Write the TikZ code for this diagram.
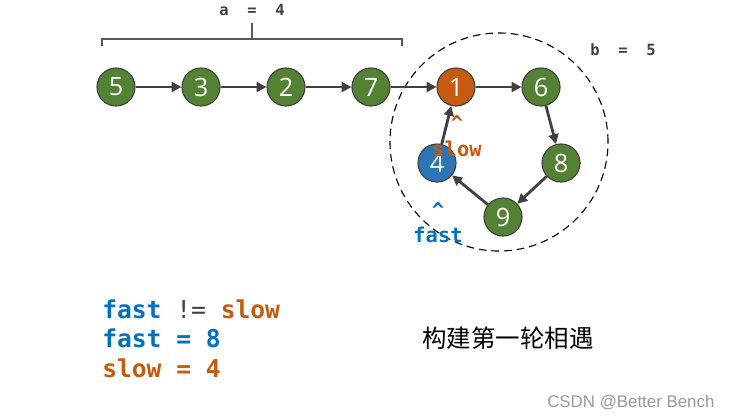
\documentclass[tikz,border=0pt]{standalone}
\usepackage{fontspec}
\setmainfont{Liberation Sans}
\setsansfont{Open Sans}
\setmonofont{DejaVu Sans Mono}
\newfontfamily\cjk{Noto Sans CJK SC}
\usetikzlibrary{arrows.meta, positioning}

\definecolor{listgreen}{HTML}{548235}
\definecolor{slowfill}{HTML}{C55A11}
\definecolor{fastfill}{HTML}{2E75B6}
\definecolor{fasttext}{HTML}{0070C0}
\definecolor{slowtext}{HTML}{C55A11}
\definecolor{darkline}{HTML}{404040}
\definecolor{bracketgray}{HTML}{595959}

\begin{document}
\begin{tikzpicture}[x=0.025cm, y=-0.025cm,
    listnode/.style={circle, draw=darkline, line width=0.8pt, fill=listgreen, minimum size=0.95cm, inner sep=0pt, text=white, font=\sffamily\fontsize{18}{18}\selectfont},
    slownode/.style={listnode, fill=slowfill},
    fastnode/.style={listnode, fill=fastfill},
    link/.style={-{Triangle[length=7pt, width=7pt]}, line width=2pt, darkline},
    lenlabel/.style={anchor=base, text=darkline, font=\ttfamily\bfseries\fontsize{11}{12}\selectfont},
    ptrlabel/.style={anchor=base, font=\ttfamily\bfseries\fontsize{14.5}{16}\selectfont},
    code/.style={anchor=base west, inner sep=0pt, font=\ttfamily\bfseries\fontsize{17.5}{20}\selectfont}
]
    \useasboundingbox (0,0) rectangle (730,417);
    % Cycle part
    \draw[dash pattern=on 5.5pt off 3.5pt, line width=0.8pt] (499,142) circle[radius=2.725cm];
    % Straight part
    \foreach \v/\x in {5/116, 3/201, 2/286, 7/371} {
        \node[listnode] (n\v) at (\x,87) {\v};
    }
    \node[slownode] (n1) at (456,87) {1};
    \node[listnode] (n6) at (541,87) {6};
    \node[listnode] (n8) at (561,163) {8};
    \node[listnode] (n9) at (503,217) {9};
    \node[fastnode] (n4) at (437,163) {4};
    % Links
    \foreach \a/\b in {5/3, 3/2, 2/7, 7/1, 1/6, 6/8, 8/9, 9/4, 4/1} {
        \draw[link] (n\a) -- (n\b);
    }
    % Lengths
    \draw[bracketgray, line width=1.7pt] (102,46) -- (102,39) -- (402,39) -- (402,46);
    \draw[bracketgray, line width=1.7pt] (252,39) -- (252,23);
    \node[lenlabel] (alen) at (252,15) {a\ \ =\ \ 4};
    \node[lenlabel] (blen) at (623,55) {b\ \ =\ \ 5};
    % Pointers
    \node[ptrlabel, text=slowtext] (slowcaret) at (457,130) {\textasciicircum};
    \node[ptrlabel, text=slowtext] (slowname) at (457,156) {slow};
    \node[ptrlabel, text=fasttext] (fastcaret) at (438,217) {\textasciicircum};
    \node[ptrlabel, text=fasttext] (fastname) at (438,242) {fast};
    % State
    \node[code] (line1) at (102,318) {\textcolor{fasttext}{fast} \textcolor{darkline}{\mdseries !=} \textcolor{slowtext}{slow}};
    \node[code, text=fasttext] (line2) at (102,347) {fast = 8};
    \node[code, text=slowtext] (line3) at (102,377) {slow = 4};
    \node[anchor=base, font=\cjk\fontsize{17.4}{20}\selectfont] (title) at (508,347) {构建第一轮相遇};
    \node[anchor=base west, inner sep=0pt, text=black!40, font=\fontsize{12}{14}\selectfont] (mark) at (547,407) {CSDN @Better Bench};
\end{tikzpicture}
\end{document}
